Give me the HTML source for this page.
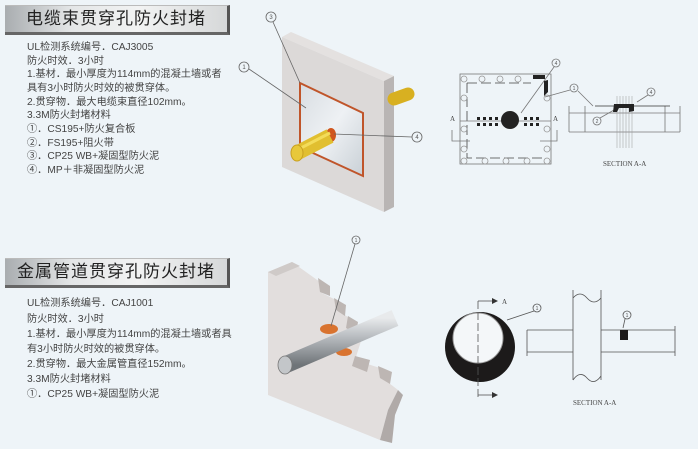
<!DOCTYPE html>
<html><head><meta charset="utf-8"><style>
html,body{margin:0;padding:0;background:#eef4f8;}
body{width:698px;height:449px;overflow:hidden;position:relative;font-family:"Liberation Sans","Noto Sans CJK SC",sans-serif;}
.bar{position:absolute;left:5px;width:222px;height:26px;background:linear-gradient(90deg,#a9adb0 0%,#e4e6e7 30%,#f2f3f3 60%,#d6d8d9 100%);border-right:3px solid #555;border-bottom:3px solid #666;border-top:1px solid #bbb;font-size:17px;color:#222;text-align:center;line-height:26px;letter-spacing:1px;}
.t{position:absolute;left:27px;font-size:10.2px;color:#444;white-space:nowrap;line-height:13px;}
svg{position:absolute;left:0;top:0;}
</style></head><body>
<div class="bar" style="top:5px">电缆束贯穿孔防火封堵</div>
<div class="t" style="top:41px">UL检测系统编号．CAJ3005</div>
<div class="t" style="top:55px">防火时效．3小时</div>
<div class="t" style="top:68px">1.基材．最小厚度为114mm的混凝土墙或者</div>
<div class="t" style="top:82px">具有3小时防火时效的被贯穿体。</div>
<div class="t" style="top:96px">2.贯穿物．最大电缆束直径102mm。</div>
<div class="t" style="top:109px">3.3M防火封堵材料</div>
<div class="t" style="top:123px">①．CS195+防火复合板</div>
<div class="t" style="top:137px">②．FS195+阻火带</div>
<div class="t" style="top:150px">③．CP25 WB+凝固型防火泥</div>
<div class="t" style="top:164px">④．MP＋非凝固型防火泥</div>

<div class="bar" style="top:258px">金属管道贯穿孔防火封堵</div>
<div class="t" style="top:297px">UL检测系统编号．CAJ1001</div>
<div class="t" style="top:313px">防火时效．3小时</div>
<div class="t" style="top:328px">1.基材．最小厚度为114mm的混凝土墙或者具</div>
<div class="t" style="top:343px">有3小时防火时效的被贯穿体。</div>
<div class="t" style="top:358px">2.贯穿物．最大金属管直径152mm。</div>
<div class="t" style="top:373px">3.3M防火封堵材料</div>
<div class="t" style="top:388px">①．CP25 WB+凝固型防火泥</div>

<svg width="698" height="449" viewBox="0 0 698 449">
<defs>
<linearGradient id="pan" x1="0" y1="0" x2="1" y2="1"><stop offset="0" stop-color="#d8dde2"/><stop offset=".5" stop-color="#eef1f4"/><stop offset="1" stop-color="#c9d0d6"/></linearGradient>
<linearGradient id="pipe" x1="0" y1="0" x2="0" y2="1"><stop offset="0" stop-color="#e8eaec"/><stop offset=".4" stop-color="#b8bcc0"/><stop offset="1" stop-color="#6f7478"/></linearGradient>
</defs>
<!-- cable wall -->
<polygon points="282,37 291,32 394,76 384,81" fill="#e4e1e0"/>
<polygon points="384,81 394,76 394,207 384,212" fill="#b9b5b4"/>
<polygon points="282,37 384,81 384,212 282,167" fill="#dcd9d8"/>
<polygon points="300,83 363,113 363,176 300,147" fill="url(#pan)" stroke="#c0552a" stroke-width="2"/>
<line x1="394" y1="99" x2="408" y2="94" stroke="#d8b021" stroke-width="13" stroke-linecap="round"/>
<ellipse cx="331" cy="135" rx="5" ry="7" fill="#d0561e"/>
<line x1="297" y1="153" x2="330" y2="136" stroke="#e1bf30" stroke-width="15"/>
<line x1="297" y1="150" x2="330" y2="133" stroke="#f3dc5a" stroke-width="3"/>
<ellipse cx="297" cy="153" rx="6" ry="8" fill="#e8c83a" stroke="#c9a020"/>
<g fill="none" stroke="#666" stroke-width=".8">
<circle cx="271" cy="17" r="5"/><line x1="273" y1="22" x2="300" y2="83"/>
<circle cx="244" cy="67" r="5"/><line x1="249" y1="69" x2="306" y2="108"/>
<circle cx="417" cy="137" r="5"/><line x1="412" y1="137" x2="334" y2="134"/>
</g>
<g font-size="6" fill="#555" text-anchor="middle" font-family="Liberation Sans"><text x="271" y="19">3</text><text x="244" y="69">1</text><text x="417" y="139">4</text></g>

<!-- schematic top right -->
<g stroke="#777" fill="none" stroke-width=".8">
<rect x="460" y="74" width="91" height="90"/>
<path d="M467 83 V158 H545 M467 83 H531" stroke="#444" stroke-dasharray="10,4"/>
<line x1="460" y1="121" x2="551" y2="121"/>
<g stroke="#999"><circle cx="464" cy="79" r="3"/><circle cx="482" cy="79" r="3"/><circle cx="500" cy="79" r="3"/><circle cx="518" cy="79" r="3"/><circle cx="464" cy="98" r="3"/><circle cx="464" cy="129" r="3"/><circle cx="464" cy="149" r="3"/><circle cx="547" cy="98" r="3"/><circle cx="547" cy="129" r="3"/><circle cx="547" cy="149" r="3"/><circle cx="464" cy="161" r="3"/><circle cx="485" cy="161" r="3"/><circle cx="506" cy="161" r="3"/><circle cx="527" cy="161" r="3"/><circle cx="547" cy="161" r="3"/></g>
<path d="M452 130 V141 H470 M557 130 V141 H540"/>
<line x1="569" y1="113" x2="680" y2="113"/><line x1="569" y1="132" x2="680" y2="132"/>
<line x1="569" y1="106" x2="569" y2="132"/><line x1="680" y1="106" x2="680" y2="132"/>
<line x1="585" y1="106" x2="585" y2="132"/><line x1="665" y1="106" x2="665" y2="132"/>
<g stroke="#999" stroke-width=".5"><line x1="617" y1="96" x2="617" y2="148"/><line x1="620" y1="96" x2="620" y2="148"/><line x1="623" y1="96" x2="623" y2="148"/><line x1="626" y1="96" x2="626" y2="148"/><line x1="629" y1="96" x2="629" y2="148"/><line x1="632" y1="96" x2="632" y2="148"/></g>
<line x1="595" y1="106" x2="670" y2="106" stroke="#333"/>
<circle cx="556" cy="63" r="4"/><line x1="554" y1="67" x2="521" y2="113"/>
<circle cx="574" cy="88" r="4"/><line x1="570" y1="90" x2="545" y2="97"/><line x1="578" y1="91" x2="593" y2="106"/>
<circle cx="651" cy="92" r="4"/><line x1="648" y1="95" x2="637" y2="102"/>
<circle cx="597" cy="121" r="4"/><line x1="600" y1="118" x2="614" y2="110"/>
</g>
<rect x="533" y="75" width="12" height="4" fill="#222"/>
<polygon points="544,81 548,80 548,92 544,96" fill="#222"/>
<circle cx="510" cy="120" r="9" fill="#222"/>
<g fill="#222"><rect x="477" y="117" width="3" height="3"/><rect x="483" y="117" width="3" height="3"/><rect x="489" y="117" width="3" height="3"/><rect x="495" y="117" width="3" height="3"/><rect x="477" y="123" width="3" height="3"/><rect x="483" y="123" width="3" height="3"/><rect x="489" y="123" width="3" height="3"/><rect x="495" y="123" width="3" height="3"/><rect x="524" y="117" width="3" height="3"/><rect x="530" y="117" width="3" height="3"/><rect x="536" y="117" width="3" height="3"/><rect x="524" y="123" width="3" height="3"/><rect x="530" y="123" width="3" height="3"/><rect x="536" y="123" width="3" height="3"/></g>
<path d="M614 104 H634 V111 L629 112 V108 H619 L617 112 H613 Z" fill="#222"/>
<g font-family="Liberation Serif" fill="#444" font-size="7"><text x="450" y="121">A</text><text x="553" y="121">A</text><text x="603" y="166">SECTION A-A</text></g>

<!-- pipe wall -->
<polygon points="268,272 292,262 320,282 322,293 336,300 336,310 350,318 346,328 362,338 355,360 380,368 385,380 398,390 388,410 380,440 268,395" fill="#e2dedd"/>
<polygon points="380,440 388,410 398,390 403,395 395,415 392,443" fill="#b0aaa8"/>
<polygon points="268,272 292,262 300,266 276,276" fill="#cfcac8"/>
<g fill="#bdb6b3"><polygon points="318,278 330,286 330,296 320,292"/><polygon points="334,298 346,305 345,316 336,310"/><polygon points="348,316 358,322 356,334 346,328"/><polygon points="355,356 370,360 367,372 352,366"/><polygon points="378,366 392,372 390,384 380,378"/></g>
<ellipse cx="329" cy="329" rx="9" ry="5" fill="#d9732f"/>
<ellipse cx="344" cy="352" rx="8" ry="4" fill="#d9732f"/>
<line x1="285" y1="365" x2="395" y2="318" stroke="url(#pipe)" stroke-width="17"/>
<ellipse cx="285" cy="365" rx="7" ry="9" fill="#c3c6c9" stroke="#777" stroke-width=".8"/>
<circle cx="356" cy="240" r="4" fill="none" stroke="#666" stroke-width=".8"/>
<line x1="355" y1="244" x2="331" y2="326" stroke="#666" stroke-width=".8"/>

<!-- circle section -->
<circle cx="480" cy="347" r="35" fill="#1c1a1a"/>
<circle cx="478" cy="338" r="25" fill="#f4f7f9" stroke="#999"/>
<g stroke="#555" fill="none" stroke-width=".8">
<line x1="478" y1="301" x2="478" y2="400" stroke-dasharray="8,3"/>
<line x1="478" y1="301" x2="492" y2="301"/><line x1="478" y1="395" x2="492" y2="395"/>
<circle cx="537" cy="308" r="4"/><line x1="534" y1="311" x2="507" y2="320"/>
<path d="M573 298 Q580 290 587 298 Q594 306 601 298 M573 290 V380 M601 290 V380 M573 380 Q580 370 587 378 Q594 386 601 376"/>
<line x1="527" y1="330" x2="573" y2="330"/><line x1="527" y1="352" x2="573" y2="352"/><line x1="527" y1="330" x2="527" y2="356"/>
<line x1="601" y1="330" x2="675" y2="330"/><line x1="601" y1="352" x2="675" y2="352"/><line x1="675" y1="326" x2="675" y2="356"/>
<circle cx="627" cy="315" r="4"/><line x1="625" y1="319" x2="623" y2="328"/>
</g>
<polygon points="492,298 498,301 492,304" fill="#333"/><polygon points="492,392 498,395 492,398" fill="#333"/>
<rect x="620" y="330" width="8" height="10" fill="#1c1a1a"/>
<g font-family="Liberation Serif" fill="#444" font-size="7"><text x="502" y="304">A</text><text x="573" y="405">SECTION A-A</text></g>
<g font-size="5" fill="#555" text-anchor="middle"><text x="356" y="242">1</text><text x="537" y="310">1</text><text x="627" y="317">1</text><text x="556" y="65">4</text><text x="574" y="90">1</text><text x="651" y="94">4</text><text x="597" y="123">2</text></g>
</svg>
</body></html>
